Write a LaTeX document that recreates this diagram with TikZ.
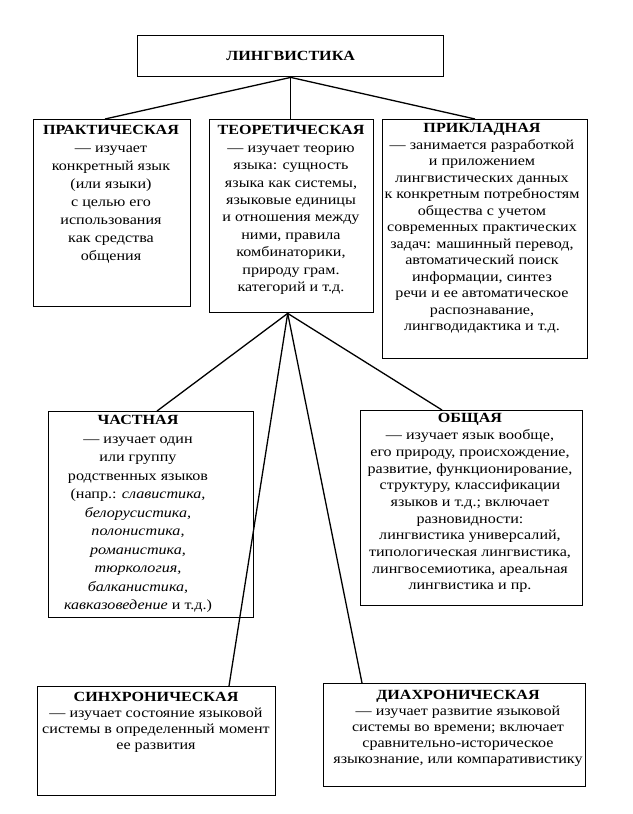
\documentclass[tikz,border=0pt]{standalone}
\usepackage{fontspec}
\setmainfont{Liberation Serif}[FakeStretch=1.15]
\usetikzlibrary{positioning, calc}

\tikzset{
  frame/.style={draw, line width=1.4pt, inner sep=0pt, anchor=north west},
  body/.style={align=center, inner sep=0pt, anchor=north,
               font=\fontsize{14}{#1}\selectfont},
  link/.style={line width=1.3pt}
}

\begin{document}
\begin{tikzpicture}[x=1pt, y=-1pt]
  \useasboundingbox[fill=white] (0,0) rectangle (632,814);

  % frames
  \node[frame, minimum width=306pt, minimum height=41pt] (ling)  at (137,35)  {};
  \node[frame, minimum width=157pt, minimum height=187pt] (prak) at (33,119)  {};
  \node[frame, minimum width=164pt, minimum height=193pt] (teor) at (209,119) {};
  \node[frame, minimum width=205pt, minimum height=239pt] (prikl) at (382,119) {};
  \node[frame, minimum width=205pt, minimum height=206pt] (chast) at (48,411)  {};
  \node[frame, minimum width=222pt, minimum height=195pt] (obsh)  at (360,410) {};
  \node[frame, minimum width=238pt, minimum height=109pt] (sinh)  at (37,686)  {};
  \node[frame, minimum width=262pt, minimum height=103pt] (diah)  at (323,683) {};

  % texts
  \node[body=17, anchor=center] (lingT) at (ling.center) {\textbf{ЛИНГВИСТИКА}};
  \node[body=18] (prakT) at (111,125.5) {\textbf{ПРАКТИЧЕСКАЯ}\\— изучает\\конкретный язык\\(или языки)\\с целью его\\использования\\как средства\\общения};
  \node[body=17.4] (teorT) at (291,125.5) {\textbf{ТЕОРЕТИЧЕСКАЯ}\\— изучает теорию\\языка: сущность\\языка как системы,\\языковые единицы\\и отношения между\\ними, правила\\комбинаторики,\\природу грам.\\категорий и т.д.};
  \node[body=16.5] (priklT) at (482,123.5) {\textbf{ПРИКЛАДНАЯ}\\— занимается разработкой\\и приложением\\лингвистических данных\\к конкретным потребностям\\общества с учетом\\современных практических\\задач: машинный перевод,\\автоматический поиск\\информации, синтез\\речи и ее автоматическое\\распознавание,\\лингводидактика и т.д.};
  \node[body=18.5] (chastT) at (138,415.5) {\textbf{ЧАСТНАЯ}\\— изучает один\\или группу\\родственных языков\\(напр.: \textit{славистика,}\\\textit{белорусистика,}\\\textit{полонистика,}\\\textit{романистика,}\\\textit{тюркология,}\\\textit{балканистика,}\\\textit{кавказоведение} и т.д.)};
  \node[body=16.7] (obshT) at (470,413.5) {\textbf{ОБЩАЯ}\\— изучает язык вообще,\\его природу, происхождение,\\развитие, функционирование,\\структуру, классификации\\языков и т.д.; включает\\разновидности:\\лингвистика универсалий,\\типологическая лингвистика,\\лингвосемиотика, ареальная\\лингвистика и пр.};
  \node[body=16] (sinhT) at (156,692.5) {\textbf{СИНХРОНИЧЕСКАЯ}\\— изучает состояние языковой\\системы в определенный момент\\ее развития};
  \node[body=16] (diahT) at (458,690.5) {\textbf{ДИАХРОНИЧЕСКАЯ}\\— изучает развитие языковой\\системы во времени; включает\\сравнительно-историческое\\языкознание, или компаративистику};

  % connectors
  \draw[link] (ling.south) -- ($(prak.north west)+(72,0)$);
  \draw[link] (ling.south) -- (ling.south |- teor.north);
  \draw[link] (ling.south) -- ($(prikl.north west)+(93,0)$);

  \coordinate (fork) at ($(teor.south)+(-4,0)$);
  \draw[link] (fork) -- ($(chast.north west)+(109,0)$);
  \draw[link] (fork) -- ($(sinh.north west)+(192,0)$);
  \draw[link] (fork) -- ($(diah.north west)+(39,0)$);
  \draw[link] (fork) -- ($(obsh.north west)+(82,0)$);
\end{tikzpicture}
\end{document}
